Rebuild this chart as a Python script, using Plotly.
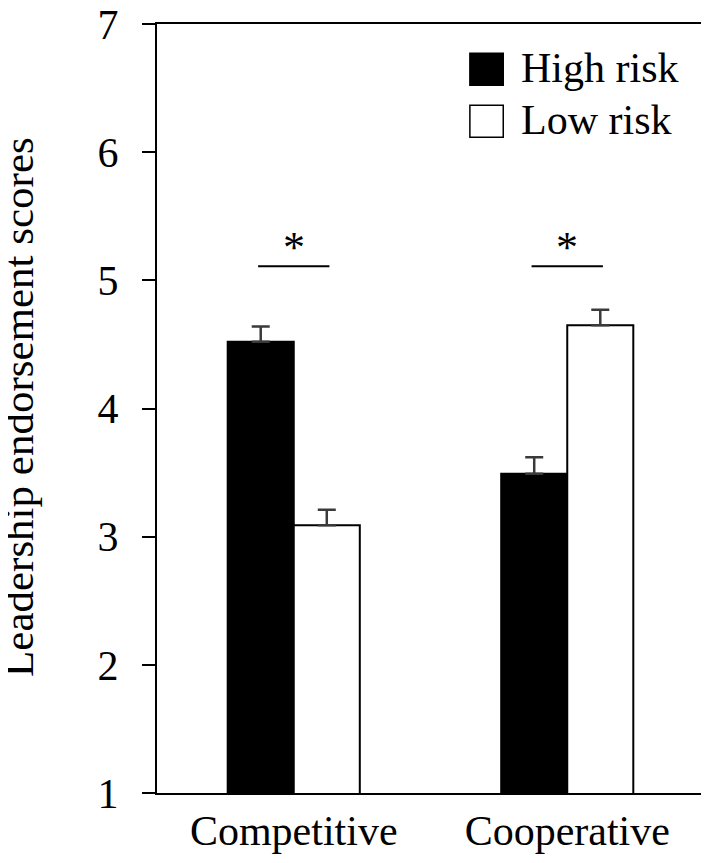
import plotly.graph_objects as go

# data
conditions = ["Competitive", "Cooperative"]
risk_groups = ["High risk", "Low risk"]
means = {
    "High risk": [4.52, 3.49],
    "Low risk": [3.09, 4.65],
}
sems = {
    "High risk": [0.12, 0.13],
    "Low risk": [0.12, 0.12],
}
bar_colors = {"High risk": "black", "Low risk": "white"}
sig_line_y = [5.11, 5.11]
sig_star_y = [5.26, 5.26]
sig_labels = ["*", "*"]
y_ticks = [1, 2, 3, 4, 5, 6, 7]
y_title = "Leadership endorsement scores"

FONT = "Liberation Serif, Times New Roman, serif"
BARGAP = 0.517

fig = go.Figure()
for grp in risk_groups:
    fig.add_trace(go.Bar(
        x=conditions,
        y=means[grp],
        name=grp,
        marker=dict(color=bar_colors[grp], line=dict(color="black", width=2)),
        error_y=dict(type="data", symmetric=False, array=sems[grp],
                     arrayminus=[0] * len(conditions),
                     color="#3a3a3a", thickness=2.5, width=9),
        showlegend=False,
    ))

# significance brackets: a bit wider than centre-to-centre of the two bars
half = (1 - BARGAP) / 4 * 1.08
for i, cond in enumerate(conditions):
    fig.add_shape(type="line", xref="x", yref="y",
                  x0=i - half, x1=i + half, y0=sig_line_y[i], y1=sig_line_y[i],
                  line=dict(color="black", width=1.8))
    fig.add_annotation(x=cond, y=sig_star_y[i], text=sig_labels[i], showarrow=False,
                       font=dict(family=FONT, size=44, color="black"),
                       yanchor="middle")

# legend drawn by hand so the swatches match the big squares of the original
for k, grp in enumerate(risk_groups):
    y_top = 0.962 - k * 0.0676
    fig.add_shape(type="rect", xref="paper", yref="paper",
                  x0=0.572, x1=0.633, y0=y_top - 0.0416, y1=y_top,
                  fillcolor=bar_colors[grp], line=dict(color="black", width=1.5))
    fig.add_annotation(xref="paper", yref="paper", x=0.662, y=y_top - 0.019,
                       text=grp, showarrow=False, xanchor="left", yanchor="middle",
                       font=dict(family=FONT, size=42, color="black"))

# y-axis title placed by hand (standoff is ignored without automargin)
fig.add_annotation(xref="paper", yref="paper", x=0, y=0.502, xshift=-138,
                   text=y_title, textangle=-90, showarrow=False,
                   xanchor="center", yanchor="middle",
                   font=dict(family=FONT, size=43, color="black"))

# the page body has an 8px margin, so the figure is a little smaller than the window
fig.update_layout(
    width=701, height=855,
    margin=dict(l=149, r=5, t=16, b=70),
    plot_bgcolor="white", paper_bgcolor="white",
    barmode="group", bargap=BARGAP, bargroupgap=0,
    font=dict(family=FONT, size=42, color="black"),
)
fig.update_xaxes(
    showline=True, linecolor="black", linewidth=2, mirror=True,
    ticks="", tickfont=dict(size=42), showgrid=False, automargin=False,
)
fig.update_yaxes(
    range=[1, 7], tickvals=y_ticks, showline=True, linecolor="black",
    linewidth=2, mirror=True, ticks="outside", ticklen=13, tickwidth=2,
    tickcolor="black", tickfont=dict(size=42), ticklabelstandoff=15,
    ticklabeloverflow="allow", automargin=False,
    showgrid=False, zeroline=False,
)

fig.write_html("out.html")
